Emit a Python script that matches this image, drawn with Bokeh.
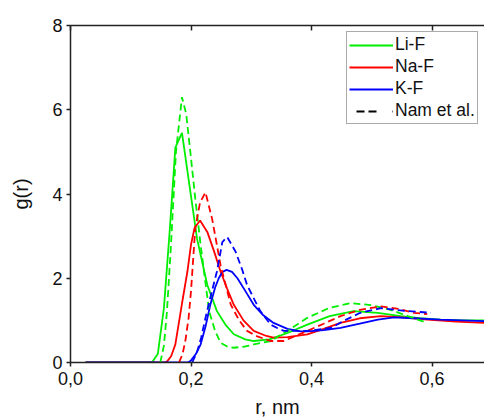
from bokeh.plotting import figure
from bokeh.models import (Range1d, LinearAxis, FixedTicker, CustomJSTickFormatter,
                          Legend, LegendItem)
from bokeh.embed import file_html
from bokeh.resources import INLINE

# ---- data ----
lif_r = [0.025, 0.13, 0.136, 0.145, 0.155, 0.165, 0.174, 0.185, 0.196, 0.21, 0.227, 0.243,
         0.257, 0.271, 0.29, 0.304, 0.33, 0.36, 0.393, 0.43, 0.47, 0.51, 0.548, 0.58, 0.614,
         0.65, 0.687]
lif_g = [0, 0, 0.02, 0.21, 1.29, 3.2, 5.1, 5.45, 4.35, 2.94, 1.84, 1.22,
         0.9, 0.67, 0.55, 0.51, 0.55, 0.7, 0.9, 1.1, 1.22, 1.18, 1.1, 1.05, 1.02,
         1.0, 1.0]

lif_nam_r = [0.149, 0.155, 0.16, 0.166, 0.175, 0.185, 0.192, 0.199, 0.207, 0.216, 0.23, 0.24,
             0.249, 0.26, 0.271, 0.29, 0.304, 0.332, 0.36, 0.393, 0.43, 0.465, 0.5, 0.531,
             0.56, 0.592]
lif_nam_g = [0, 0.4, 1.2, 2.6, 5.0, 6.3, 5.9, 4.98, 3.9, 2.78, 1.22, 0.75,
             0.47, 0.38, 0.35, 0.38, 0.43, 0.51, 0.75, 1.06, 1.3, 1.41, 1.36, 1.25,
             1.1, 0.94]

naf_r = [0.025, 0.155, 0.16, 0.167, 0.174, 0.185, 0.194, 0.2, 0.206, 0.215, 0.227, 0.238,
         0.249, 0.26, 0.271, 0.287, 0.304, 0.325, 0.337, 0.36, 0.393, 0.42, 0.448, 0.48,
         0.515, 0.55, 0.592, 0.64, 0.687]
naf_g = [0, 0, 0.02, 0.15, 0.43, 1.4, 2.16, 2.8, 3.2, 3.37, 3.1, 2.65,
         2.16, 1.75, 1.37, 1.0, 0.75, 0.63, 0.59, 0.6, 0.67, 0.8, 0.94, 1.05,
         1.1, 1.07, 1.02, 0.97, 0.94]

naf_nam_r = [0.18, 0.186, 0.191, 0.196, 0.2, 0.207, 0.215, 0.224, 0.235, 0.249, 0.266, 0.28,
             0.293, 0.31, 0.332, 0.354, 0.393, 0.42, 0.448, 0.48, 0.515, 0.545, 0.57, 0.592]
naf_nam_g = [0, 0.2, 0.55, 1.06, 1.7, 3.18, 3.8, 4.04, 3.41, 2.31, 1.37, 1.0,
             0.75, 0.62, 0.51, 0.51, 0.75, 0.92, 1.1, 1.25, 1.33, 1.27, 1.18, 1.15]

kf_r = [0.025, 0.195, 0.2, 0.208, 0.216, 0.224, 0.232, 0.24, 0.246, 0.252, 0.259, 0.268,
        0.277, 0.29, 0.304, 0.32, 0.337, 0.36, 0.382, 0.393, 0.42, 0.448, 0.48, 0.51,
        0.537, 0.57, 0.614, 0.65, 0.687]
kf_g = [0, 0, 0.05, 0.2, 0.43, 0.85, 1.37, 1.78, 2.0, 2.15, 2.2, 2.15,
        2.0, 1.7, 1.37, 1.12, 0.94, 0.8, 0.74, 0.74, 0.77, 0.82, 0.92, 1.02,
        1.07, 1.05, 1.02, 1.0, 0.98]

kf_nam_r = [0.202, 0.21, 0.217, 0.224, 0.233, 0.243, 0.252, 0.26, 0.274, 0.285, 0.293, 0.305,
            0.315, 0.332, 0.343, 0.354, 0.393, 0.432, 0.455, 0.481, 0.515, 0.54, 0.559, 0.598]
kf_nam_g = [0, 0.25, 0.6, 1.06, 1.6, 2.16, 2.86, 2.98, 2.63, 2.2, 1.84, 1.5,
            1.22, 0.9, 0.82, 0.75, 0.75, 0.82, 1.0, 1.18, 1.29, 1.25, 1.22, 1.18]

x_ticks = [0.0, 0.2, 0.4, 0.6]
y_ticks = [0, 2, 4, 6, 8]
legend_labels = ["Li-F", "Na-F", "K-F", "Nam et al."]

GREEN = "#00ee00"
RED = "#ff0000"
BLUE = "#0000ff"
FONT = "Liberation Sans"
AXC = "#222222"

p = figure(width=484, height=420, output_backend="svg", toolbar_location=None,
           x_range=Range1d(0, 0.687), y_range=Range1d(0, 8),
           min_border_left=70, min_border_right=0, min_border_top=25, min_border_bottom=55,
           x_axis_label="r, nm", y_axis_label="g(r)")
p.outline_line_color = None
p.xgrid.visible = False
p.ygrid.visible = False

fmt = CustomJSTickFormatter(code="return tick.toFixed(1).replace('.', ',');")

for ax in p.xaxis:
    ax.ticker = FixedTicker(ticks=x_ticks)
    ax.formatter = fmt
for ax in p.yaxis:
    ax.ticker = FixedTicker(ticks=y_ticks)

for ax in list(p.xaxis) + list(p.yaxis):
    ax.axis_line_color = AXC
    ax.axis_line_width = 1.5
    ax.major_tick_line_color = AXC
    ax.major_tick_line_width = 1.5
    ax.major_tick_in = 0
    ax.major_tick_out = 4
    ax.minor_tick_line_color = None
    ax.major_label_text_font = FONT
    ax.major_label_text_font_size = "18px"
    ax.major_label_text_color = "#111111"
    ax.axis_label_text_font = FONT
    ax.axis_label_text_font_size = "20px"
    ax.axis_label_text_font_style = "normal"
    ax.axis_label_text_color = "#111111"
    ax.major_label_standoff = 4

p.xaxis.major_label_standoff = 5
p.xaxis.axis_label_standoff = 8
p.yaxis.axis_label_standoff = 17

# top frame line with inward ticks and no labels
top = LinearAxis(ticker=FixedTicker(ticks=x_ticks),
                 formatter=CustomJSTickFormatter(code="return '';"),
                 major_label_text_font_size="12px",
                 axis_line_color=AXC, axis_line_width=1.5, major_tick_line_color=AXC,
                 major_tick_line_width=1.5, major_tick_in=5, major_tick_out=0,
                 minor_tick_line_color=None, major_label_standoff=0)
p.add_layout(top, "above")

W = 1.8
DASH = "7 4"
r1 = p.line(lif_r, lif_g, line_color=GREEN, line_width=W)
r2 = p.line(naf_r, naf_g, line_color=RED, line_width=W)
r3 = p.line(kf_r, kf_g, line_color=BLUE, line_width=W)
p.line(lif_nam_r, lif_nam_g, line_color=GREEN, line_width=W, line_dash=DASH)
p.line(naf_nam_r, naf_nam_g, line_color=RED, line_width=W, line_dash=DASH)
p.line(kf_nam_r, kf_nam_g, line_color=BLUE, line_width=W, line_dash=DASH)
# legend proxy for the reference data: a one-point line draws nothing in the plot
r4 = p.line(lif_nam_r[:1], lif_nam_g[:1], line_color="black", line_width=W,
            line_dash="0 7 8 4 8 16 1 10")

legend = Legend(items=[LegendItem(label=legend_labels[0], renderers=[r1]),
                       LegendItem(label=legend_labels[1], renderers=[r2]),
                       LegendItem(label=legend_labels[2], renderers=[r3]),
                       LegendItem(label=legend_labels[3], renderers=[r4])],
                location=(276, 238))
legend.label_text_font = FONT
legend.label_text_font_size = "17.5px"
legend.label_text_color = "#111111"
legend.label_height = 20
legend.glyph_height = 20
legend.glyph_width = 44
legend.spacing = 1
legend.padding = 2
legend.margin = 0
legend.label_standoff = 2
legend.border_line_color = "#555555"
legend.border_line_width = 1
legend.background_fill_alpha = 1
p.add_layout(legend)

open("out.html", "w").write(file_html(p, INLINE))
